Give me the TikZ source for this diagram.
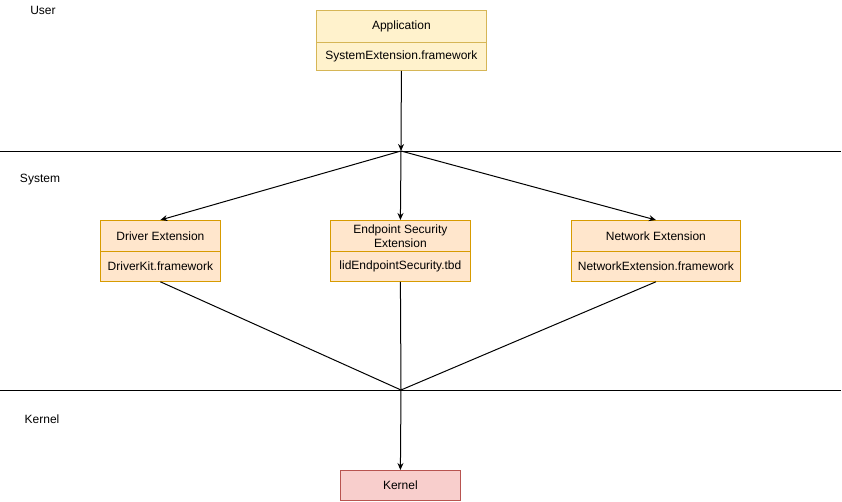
\documentclass[tikz,border=0pt]{standalone}
\usepackage{fontspec}
\setmainfont{Liberation Sans}
\usetikzlibrary{arrows.meta}
\definecolor{appfill}{HTML}{FFF2CC}
\definecolor{appline}{HTML}{D6B656}
\definecolor{extfill}{HTML}{FFE6CC}
\definecolor{extline}{HTML}{D79B00}
\definecolor{kfill}{HTML}{F8CECC}
\definecolor{kline}{HTML}{B85450}
\begin{document}
\begin{tikzpicture}[x=1pt,y=-1pt,
  every node/.style={font=\fontsize{12}{14}\selectfont, inner sep=0pt},
  conn/.style={line width=1pt},
  arr/.style={conn, -{Stealth[length=7pt,width=6pt]}},
  lane/.style={line width=0.8pt},
  lbl/.style={anchor=center},
  appbox/.style={draw=appline, fill=appfill, line width=0.8pt, anchor=north west},
  extbox/.style={draw=extline, fill=extfill, line width=0.8pt, anchor=north west},
  kbox/.style={draw=kline, fill=kfill, line width=0.8pt, anchor=north west}
]
\useasboundingbox (0,0) rectangle (842,502);
% lane lines
\coordinate (l1a) at (0,151);
\coordinate (l1b) at (841,151);
\coordinate (l2a) at (0,390);
\coordinate (l2b) at (841,390);
\draw[lane] (l1a) -- (l1b);
\draw[lane] (l2a) -- (l2b);
\node[lbl] (uL) at (43,10) {User};
\node[lbl] (sL) at (40,180) {System};
\node[lbl] (kL) at (42,419) {Kernel};
% application
\node[appbox, minimum width=170pt, minimum height=32pt] (appH) at (316,10) {Application};
\node[appbox, minimum width=170pt, minimum height=28pt] (appB) at (316,42) {SystemExtension.framework};
% driver
\node[extbox, minimum width=120pt, minimum height=31pt] (drvH) at (100,220) {Driver Extension};
\node[extbox, minimum width=120pt, minimum height=30pt] (drvB) at (100,251) {DriverKit.framework};
% endpoint
\node[extbox, minimum width=140pt, minimum height=31pt, align=center] (epH) at (330,220) {Endpoint Security\\Extension};
\node[extbox, minimum width=140pt, minimum height=30pt] (epB) at (330,251) {lidEndpointSecurity.tbd};
% network
\node[extbox, minimum width=169pt, minimum height=31pt] (netH) at (571,220) {Network Extension};
\node[extbox, minimum width=169pt, minimum height=30pt] (netB) at (571,251) {NetworkExtension.framework};
% kernel
\node[kbox, minimum width=120pt, minimum height=30pt] (ker) at (340,470) {Kernel};
% hubs
\coordinate (h1) at (401,151);
\coordinate (h2) at (401,390);
% connectors
\draw[arr] (appB.south) -- (h1);
\draw[arr] (h1) -- (drvH.north);
\draw[arr] (h1) -- (epH.north);
\draw[arr] (h1) -- (netH.north);
\draw[conn] (drvB.south) -- (h2);
\draw[conn] (epB.south) -- (h2);
\draw[conn] (netB.south) -- (h2);
\draw[arr] (h2) -- (ker.north);
\end{tikzpicture}
\end{document}
